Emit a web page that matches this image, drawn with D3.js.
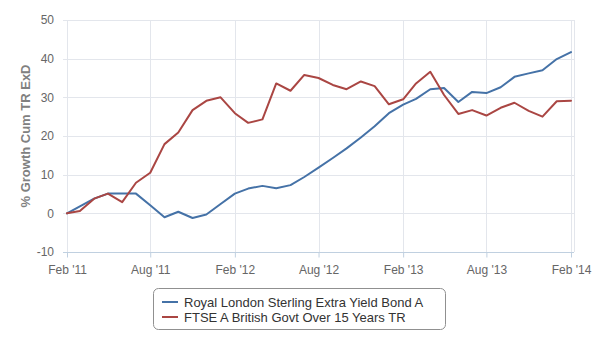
<!DOCTYPE html>
<html><head><meta charset="utf-8">
<script src="https://cdn.jsdelivr.net/npm/d3@7"></script>
<style>body{margin:0;background:#fff}svg{display:block;font-family:"Liberation Sans",Arial,sans-serif}</style>
</head><body>
<script>
const seriesNames = ["Royal London Sterling Extra Yield Bond A", "FTSE A British Govt Over 15 Years TR"];
const seriesColors = ["#4572A7", "#AA4643"];
const royalLondon = [0, 1.8, 3.8, 5.1, 5.1, 5.1, 2.1, -1.0, 0.4, -1.2, -0.3, 2.4, 5.1, 6.4, 7.1, 6.5, 7.3, 9.4,
  11.8, 14.3, 16.8, 19.6, 22.5, 25.9, 28.1, 29.6, 32.1, 32.4, 28.8, 31.4, 31.1, 32.6, 35.3, 36.2, 37.0, 39.9, 41.7];
const ftseGilts = [0, 0.6, 3.8, 5.1, 2.9, 7.9, 10.5, 17.9, 20.9, 26.7, 29.1, 30.0, 25.9, 23.4, 24.3, 33.6, 31.7, 35.8,
  35.0, 33.2, 32.1, 34.1, 32.9, 28.2, 29.5, 33.6, 36.6, 30.6, 25.7, 26.7, 25.3, 27.3, 28.6, 26.5, 25.0, 29.0, 29.1];
const yTicks = [-10, 0, 10, 20, 30, 40, 50];
const xTickLabels = ["Feb '11", "Aug '11", "Feb '12", "Aug '12", "Feb '13", "Aug '13", "Feb '14"];
const startYear = 2011, startMonth = 1;

const W = 600, H = 350;
const dates = royalLondon.map((_, i) => new Date(startYear, startMonth + i, 1));
const xTicks = xTickLabels.map((_, i) => new Date(startYear, startMonth + 6 * i, 1));

const svg = d3.select("body").append("svg").attr("width", W).attr("height", H);
const plotL = 63, plotR = 574, plotT = 20, plotB = 252;
const x = d3.scaleTime().domain([dates[0], dates[dates.length - 1]]).range([67, 571]);
const y = d3.scaleLinear().domain([-10, 50]).range([plotB, plotT]);

// horizontal grid
svg.append("g").selectAll("line").data(yTicks.filter(d => d !== -10)).join("line")
  .attr("x1", plotL).attr("x2", plotR).attr("y1", d => Math.round(y(d)) + 0.5).attr("y2", d => Math.round(y(d)) + 0.5)
  .attr("stroke", "#E3E6EC").attr("stroke-width", 1);
// vertical grid
svg.append("g").selectAll("line").data(xTicks).join("line")
  .attr("x1", d => Math.round(x(d)) + 0.5).attr("x2", d => Math.round(x(d)) + 0.5)
  .attr("y1", plotT).attr("y2", plotB)
  .attr("stroke", "#E3E6EC").attr("stroke-width", 1);
svg.append("line").attr("x1", plotR + 0.5).attr("x2", plotR + 0.5).attr("y1", plotT).attr("y2", plotB)
  .attr("stroke", "#E3E6EC");

// x axis
const xAxis = d3.axisBottom(x).tickValues(xTicks).tickFormat((d, i) => xTickLabels[i]).tickSize(5).tickSizeOuter(0);
const gx = svg.append("g").attr("transform", `translate(0,${Math.round(y(-10)) + 0.5})`).call(xAxis);
gx.select(".domain").attr("stroke", "#C0D0E0").attr("d", `M${plotL},0H${plotR}`);
gx.selectAll(".tick line").attr("stroke", "#C0D0E0");
gx.selectAll(".tick text").attr("fill", "#666").attr("font-size", 12).attr("font-family", "Liberation Sans, Arial, sans-serif").attr("dy", "0.95em").attr("y", 10);

// y axis
const yAxis = d3.axisLeft(y).tickValues(yTicks).tickFormat(d => String(d)).tickSize(0).tickPadding(0);
const gy = svg.append("g").attr("transform", `translate(54,0)`).call(yAxis);
gy.select(".domain").remove();
gy.selectAll(".tick text").attr("fill", "#666").attr("font-size", 12).attr("font-family", "Liberation Sans, Arial, sans-serif");

svg.append("text").attr("transform", `translate(25,136) rotate(-90)`)
  .attr("text-anchor", "middle").attr("dy", "0.35em")
  .attr("font-size", 13).attr("font-weight", "bold").attr("fill", "#808080")
  .text("% Growth Cum TR ExD");

// lines
const line = d3.line().x((d, i) => x(dates[i])).y(d => y(d));
[royalLondon, ftseGilts].forEach((s, k) => {
  svg.append("path").datum(s).attr("d", line).attr("fill", "none")
    .attr("stroke", seriesColors[k]).attr("stroke-width", 2).attr("stroke-linejoin", "round").attr("stroke-linecap", "round");
});

// legend
const lg = svg.append("g");
lg.append("rect").attr("x", 153.5).attr("y", 288.5).attr("width", 292).attr("height", 41).attr("rx", 5)
  .attr("fill", "#fff").attr("stroke", "#909090");
seriesNames.forEach((n, i) => {
  const yy = 302 + i * 15;
  lg.append("line").attr("x1", 162).attr("x2", 178).attr("y1", yy).attr("y2", yy)
    .attr("stroke", seriesColors[i]).attr("stroke-width", 2);
  lg.append("text").attr("x", 184).attr("y", yy).attr("dy", "0.35em")
    .attr("font-size", 13).attr("fill", "#333").text(n);
});
</script>
</body></html>
